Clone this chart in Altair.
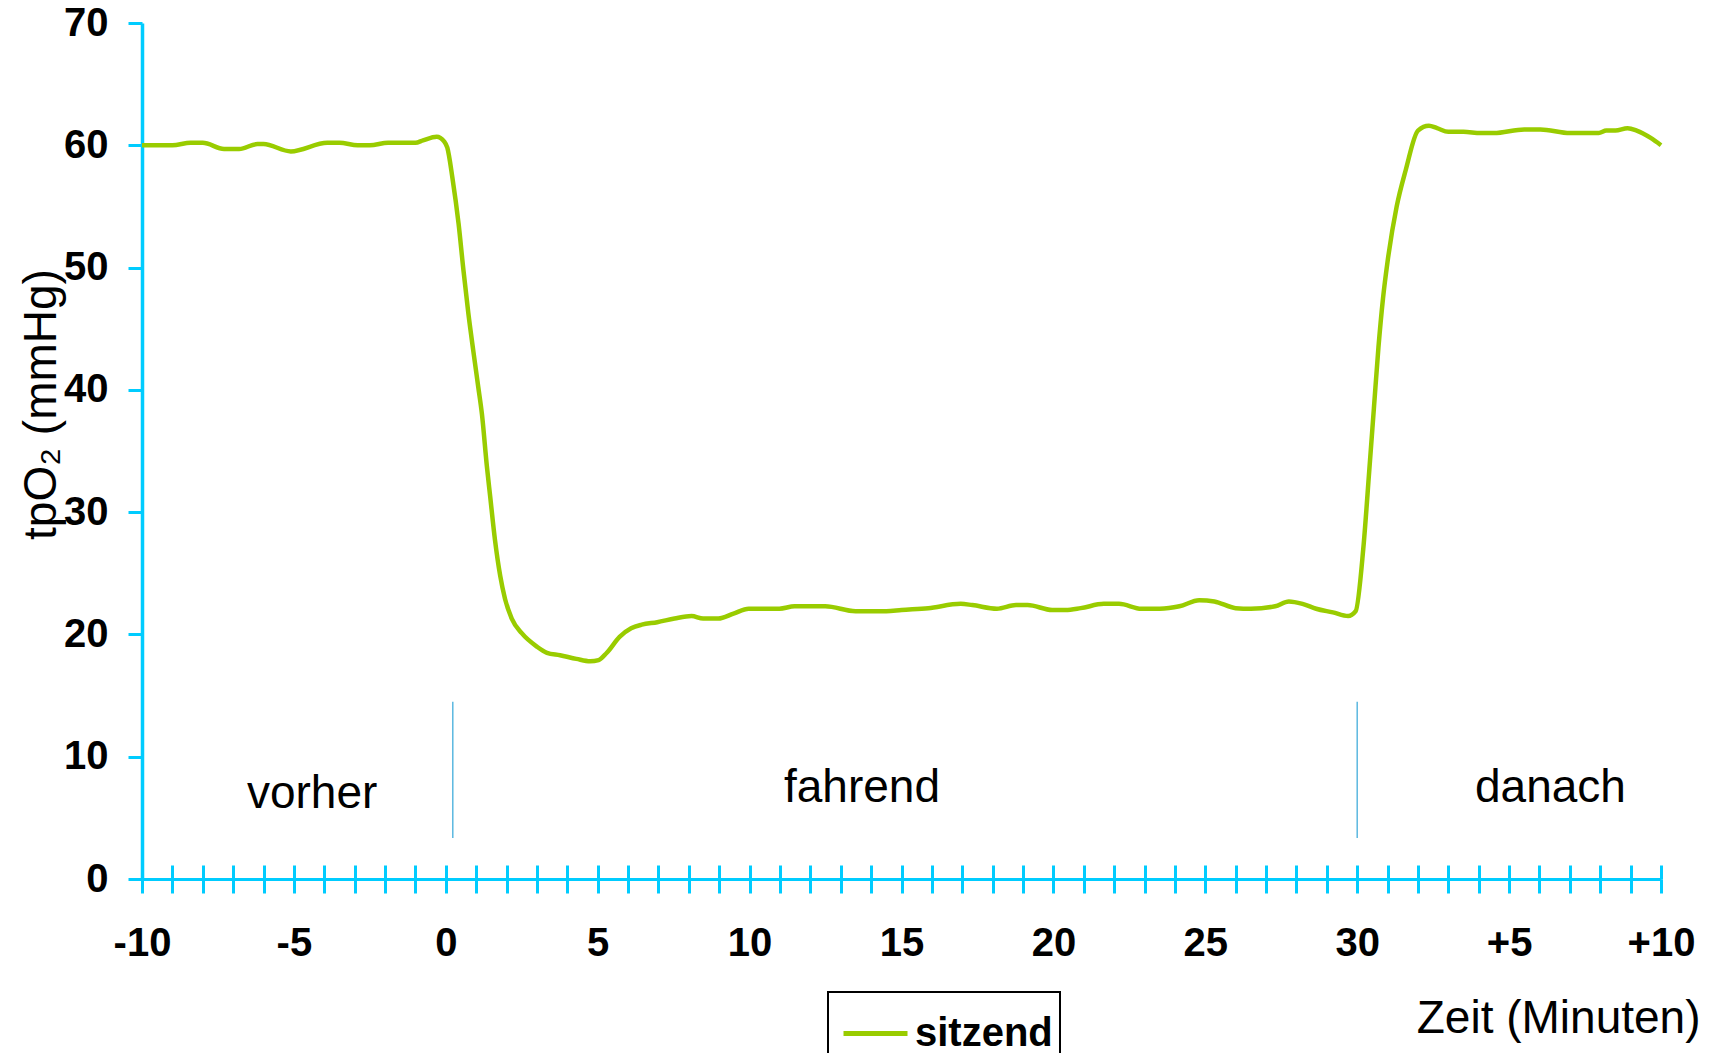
import altair as alt
import pandas as pd

# ---- data ----
t_min = [-10, -9.0, -8.4, -8.0, -7.3, -6.8, -6.2, -6.0, -5.1, -3.9, -3.5, -2.9, -2.5,
         -1.9, -1.0, -0.75, -0.3, -0.05, 0.05, 0.22, 0.42, 0.58, 0.74, 0.91, 1.07,
         1.19, 1.35, 1.46, 1.62, 1.79, 1.95, 2.17, 2.5, 3.0, 3.33, 3.76, 4.3, 4.75,
         5.03, 5.3, 5.72, 6.1, 6.45, 6.96, 7.53, 8.09, 8.47, 8.97, 9.47, 9.97, 10.98,
         11.48, 12.49, 13.49, 14.5, 15.0, 15.88, 16.95, 17.33, 18.14, 18.77, 19.15,
         19.96, 20.4, 20.9, 21.66, 22.16, 22.9, 23.5, 24.15, 24.8, 25.3, 26.0, 26.5,
         27.3, 27.75, 28.2, 28.65, 29.2, 29.7, 29.95, 30.2, 30.4, 30.55, 30.7, 30.85,
         31.0, 31.3, 31.6, 32.0, 32.36, 32.63, 33.0, 33.5, 34.06, 34.5, 35.5, 36.03,
         37.0, 37.95, 38.2, 38.5, 38.9, 39.2, 39.66, 40.0]
tpo2 = [60.0, 60.0, 60.2, 60.2, 59.7, 59.7, 60.1, 60.1, 59.5, 60.2, 60.2, 60.0, 60.0,
        60.2, 60.2, 60.4, 60.7, 60.3, 59.8, 57.3, 53.6, 49.8, 46.3, 43.1, 40.2,
        38.0, 33.8, 31.3, 27.7, 24.8, 22.9, 21.3, 20.1, 19.0, 18.5, 18.3, 18.0, 17.8,
        17.9, 18.5, 19.8, 20.5, 20.8, 21.0, 21.3, 21.5, 21.3, 21.3, 21.7, 22.1, 22.1,
        22.3, 22.3, 21.9, 21.9, 22.0, 22.15, 22.5, 22.4, 22.1, 22.4, 22.4,
        22.0, 22.0, 22.15, 22.5, 22.5, 22.1, 22.1, 22.3, 22.8, 22.7, 22.15, 22.1,
        22.3, 22.7, 22.5, 22.1, 21.8, 21.5, 21.9, 27.0, 33.5, 38.5, 43.5, 47.5,
        50.5, 55.0, 58.0, 61.2, 61.6, 61.4, 61.1, 61.1, 61.0, 61.0, 61.3, 61.3,
        61.0, 61.0, 61.2, 61.2, 61.4, 61.2, 60.6, 60.0]
series_name = "sitzend"

phase_text = ["vorher", "fahrend", "danach"]
phase_x = [-4.4, 13.7, 36.36]
phase_y = [5.8, 6.3, 6.3]

sep_x = [0.23, 30.0]
sep_y1 = [3.35, 3.35]
sep_y2 = [14.5, 14.5]

x_ticks = list(range(-10, 41))
y_ticks = list(range(0, 71, 10))

FONT = "Liberation Sans"
CYAN = "#00CCFF"
GREEN = "#99CC00"

df_line = pd.DataFrame({"t": t_min, "v": tpo2, "series": [series_name] * len(t_min)})
df_sep = pd.DataFrame({"t": sep_x, "v": sep_y1, "v2": sep_y2})
df_txt = pd.DataFrame({"t": phase_x, "v": phase_y, "label": phase_text})

xscale = alt.Scale(domain=[-10, 40], nice=False, zero=False)
yscale = alt.Scale(domain=[0, 70], nice=False)

label_expr = ("datum.value % 5 == 0 ? (datum.value > 30 ? '+' + (datum.value - 30) "
              ": '' + datum.value) : ''")

x_main_axis = alt.Axis(
    orient="bottom", values=x_ticks, labelExpr=label_expr,
    domainColor=CYAN, domainWidth=3, tickColor=CYAN, tickWidth=3, tickSize=14,
    labelFont=FONT, labelFontSize=40, labelFontWeight="bold", labelColor="black",
    labelPadding=30, labelOverlap=False, labelFlush=False, grid=False,
    title="Zeit (Minuten)", titleFont=FONT, titleFontSize=46, titleFontWeight="normal",
    titleColor="black", titleX=1558, titleY=153, titleAlign="right",
    titleBaseline="alphabetic")

x_tick_axis = alt.Axis(
    orient="bottom", offset=-14, values=x_ticks, domain=False, labels=False,
    tickColor=CYAN, tickWidth=3, tickSize=14, grid=False, title="")

y_axis = alt.Axis(
    orient="left", values=y_ticks, domainColor=CYAN, domainWidth=3.5, tickColor=CYAN,
    tickWidth=3, tickSize=14, labelFont=FONT, labelFontSize=40, labelFontWeight="bold",
    labelColor="black", labelPadding=20, grid=False,
    title="tpO₂ (mmHg)", titleFont=FONT, titleFontSize=46, titleFontWeight="normal",
    titleColor="black", titleAngle=270, titleX=-87, titleY=381, titleAlign="center",
    titleBaseline="alphabetic")

line = alt.Chart(df_line).mark_line(strokeWidth=4.5, interpolate="monotone").encode(
    x=alt.X("t:Q", scale=xscale, axis=x_main_axis),
    y=alt.Y("v:Q", scale=yscale, axis=y_axis),
    color=alt.Color("series:N", scale=alt.Scale(domain=[series_name], range=[GREEN]),
                    legend=alt.Legend(title=None, orient="none", legendX=686, legendY=969,
                                      padding=7, strokeColor="black", fillColor="white",
                                      symbolType="stroke", symbolSize=4096,
                                      symbolStrokeWidth=5, symbolOffset=6,
                                      labelFont=FONT, labelFontSize=40,
                                      labelFontWeight="bold", labelColor="black",
                                      labelOffset=5)),
)

seps = alt.Chart(df_sep).mark_rule(color="#5BB8E0", strokeWidth=1.5).encode(
    x=alt.X("t:Q", scale=xscale, axis=x_tick_axis),
    y=alt.Y("v:Q", scale=yscale, axis=y_axis),
    y2="v2:Q",
)

texts = alt.Chart(df_txt).mark_text(font=FONT, fontSize=46, color="black",
                                    align="center", baseline="alphabetic").encode(
    x=alt.X("t:Q", scale=xscale, axis=None),
    y=alt.Y("v:Q", scale=yscale, axis=y_axis),
    text="label:N",
)

chart = alt.layer(line, seps, texts).resolve_axis(x="independent").properties(
    width=1519, height=856,
    padding={"left": 142, "top": 23, "right": 52, "bottom": 174},
    autosize=alt.AutoSizeParams(type="none"),
    background="white",
).configure_view(strokeWidth=0).configure_legend(strokeWidth=2)

chart.save("out.html", embed_options={"renderer": "svg", "actions": False})
